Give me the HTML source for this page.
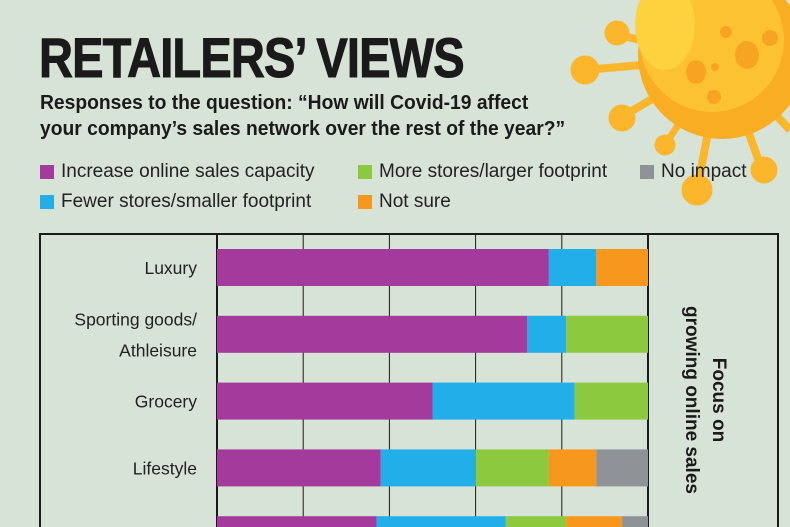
<!DOCTYPE html>
<html><head><meta charset="utf-8"><style>
body{margin:0;width:790px;height:527px;overflow:hidden;background:#d7e3d7;font-family:"Liberation Sans",sans-serif;position:relative}
.t{position:absolute;margin:0}
</style></head><body>
<svg width="790" height="527" style="position:absolute;left:0;top:0">
<g fill="#fbb62b" stroke="#fbb62b">
<line x1="722" y1="58" x2="618" y2="35" stroke-width="8"/><circle cx="617" cy="33" r="12"/>
<line x1="722" y1="58" x2="585" y2="70" stroke-width="8"/><circle cx="585" cy="70" r="14"/>
<line x1="722" y1="58" x2="625" y2="115" stroke-width="8"/><circle cx="622" cy="118" r="13"/>
<line x1="722" y1="58" x2="665" y2="145" stroke-width="7"/><circle cx="665" cy="145" r="10"/>
<line x1="722" y1="58" x2="698" y2="185" stroke-width="8"/><circle cx="697" cy="190" r="15"/>
<line x1="722" y1="58" x2="762" y2="170" stroke-width="8"/><circle cx="764" cy="170" r="13"/>
<line x1="722" y1="58" x2="790" y2="130" stroke-width="8"/>
</g>
<circle cx="722" cy="55" r="84" fill="#f9ad22"/>
<circle cx="712" cy="40" r="72" fill="#fcc232"/>
<ellipse cx="665" cy="25" rx="30" ry="45" fill="#fdd23e"/>
<g fill="#f6a421"><ellipse cx="747" cy="55" rx="12" ry="14"/><ellipse cx="696" cy="72" rx="10" ry="12"/><circle cx="726" cy="32" r="6"/><circle cx="770" cy="38" r="8"/><circle cx="715" cy="67" r="4"/><circle cx="714" cy="97" r="7"/></g>
</svg>
<div class="t" style="left:39px;top:25px;font-size:56px;font-weight:bold;letter-spacing:-1px;transform:scaleX(0.84);transform-origin:left;color:#1a1a1a;-webkit-text-stroke:1px #1a1a1a">RETAILERS’ VIEWS</div>
<div class="t" style="left:40px;top:90px;font-size:20.5px;font-weight:bold;line-height:26px;color:#1a1a1a;transform:scaleX(0.94);transform-origin:left;white-space:nowrap">Responses to the question: “How will Covid-19 affect<br>your company’s sales network over the rest of the year?”</div>
<div id="legend"></div>
<svg id="chart" width="790" height="527" style="position:absolute;left:0;top:0"></svg>
<script>
const categories=["Luxury","Sporting goods/|Athleisure","Grocery","Lifestyle","Fashion & Apparel"];
const seriesNames=["Increase online sales capacity","Fewer stores/smaller footprint","More stores/larger footprint","Not sure","No impact"];
const onlineVals=[77,72,50,38,37];
const fewerVals=[11,9,33,22,30];
const moreVals=[0,19,17,17,14];
const notSureVals=[12,0,0,11,13];
const noImpactVals=[0,0,0,12,6];
const ticks=[0,20,40,60,80,100];
const colors=["#a43a9c","#21aee9","#8dc93f","#f7981d","#8f9296"];
const series=[onlineVals,fewerVals,moreVals,notSureVals,noImpactVals];
const NS="http://www.w3.org/2000/svg";
const svg=document.getElementById('chart');
const x0=217,x1=648;
const xs=v=>x0+(x1-x0)*Math.min(v,100)/100;
const yb=i=>249+i*66.8;
function mk(t,a){const e=document.createElementNS(NS,t);for(const k in a)e.setAttribute(k,a[k]);svg.appendChild(e);return e;}
let r=mk('rect',{x:40,y:234,width:738,height:300,fill:'none',stroke:'#1a1a1a','stroke-width':2});

ticks.forEach(t=>{const l=mk('line',{x1:xs(t),x2:xs(t),y1:234,y2:527,stroke:'#1a1a1a','stroke-width':t==0||t==100?2:1});
});
categories.forEach((c,i)=>{let acc=0;
series.forEach((s,j)=>{const v=s[i];if(v>0){const b=mk('rect',{x:xs(acc),y:yb(i),width:xs(acc+v)-xs(acc),height:37,fill:colors[j]});
}acc+=v;});
const lines=c.split('|');
lines.forEach((ln,k)=>{const t=mk('text',{x:197,y:yb(i)+25+(lines.length>1?(k-0.5)*31:0),'text-anchor':'end','font-size':17.5,fill:'#222'});
t.textContent=ln;});
});
const side=mk('text',{transform:'translate(713,400) rotate(90)','text-anchor':'middle','font-size':19,'font-weight':'bold',fill:'#1a1a1a'});

const s1=document.createElementNS(NS,'tspan');s1.setAttribute('x',0);s1.setAttribute('y',0);s1.textContent='Focus on';side.appendChild(s1);
const s2=document.createElementNS(NS,'tspan');s2.setAttribute('x',0);s2.setAttribute('y',27);s2.textContent='growing online sales';side.appendChild(s2);
const pos=[[40,161],[40,191],[358,161],[358,191],[640,161]];
const lg=document.getElementById('legend');
seriesNames.forEach((n,j)=>{const d=document.createElement('div');


d.style.cssText=`position:absolute;left:${pos[j][0]}px;top:${pos[j][1]}px;font-size:19px;color:#222;white-space:nowrap;display:flex;align-items:center`;
d.innerHTML=`<span style="display:inline-block;width:14px;height:14px;background:${colors[j]};margin-right:7px"></span>${n}`;
lg.appendChild(d);});
</script>
</body></html>
